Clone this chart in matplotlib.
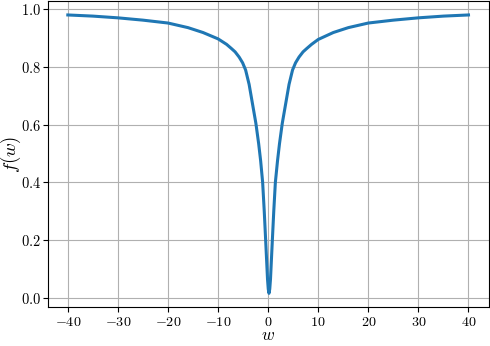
import matplotlib
matplotlib.use("Agg")
import matplotlib.pyplot as plt

plt.rcParams["font.family"] = "serif"
plt.rcParams["font.serif"] = ["cmr10"]
plt.rcParams["mathtext.fontset"] = "cm"
plt.rcParams["axes.formatter.use_mathtext"] = True

# values (dip sits a little right of 0)
w = [-40, -35, -30, -25, -20, -16, -13, -10, -8.3, -7.3, -6.6, -5.8, -5.1,
     -4.5, -3.8, -3.3, -2.45, -1.9, -1.5, -1.1, -0.78, -0.5, -0.28, -0.13,
     0.02, 0.17,
     0.32, 0.47, 0.62, 0.84, 1.12, 1.44, 1.87, 2.27, 2.82, 3.67, 4.17, 4.87,
     5.47, 6.17, 6.97, 7.67, 8.67, 10, 13, 16, 20, 25, 30, 35, 40]
f_w = [0.981, 0.977, 0.971, 0.963, 0.953, 0.937, 0.920, 0.898, 0.879, 0.864,
       0.853, 0.835, 0.815, 0.790, 0.740, 0.690, 0.605, 0.535, 0.475, 0.400,
       0.300, 0.200, 0.120, 0.065, 0.030, 0.015,
       0.030, 0.065, 0.120, 0.200, 0.300, 0.400, 0.475, 0.535, 0.605, 0.690,
       0.740, 0.790, 0.815, 0.835, 0.853, 0.864, 0.879, 0.896, 0.920, 0.937,
       0.953, 0.963, 0.971, 0.977, 0.981]

fig = plt.figure(figsize=(4.9, 3.46), dpi=100)
ax = fig.add_axes([0.0975, 0.112, 0.8995, 0.885])
ax.plot(w, f_w, color="#1f77b4", linewidth=2.2)
ax.set_xlabel(r"$w$", fontsize=12.5, labelpad=-1.0)
ax.set_ylabel(r"$f(w)$", fontsize=13.5)
ax.yaxis.set_label_coords(-0.056, 0.5)
ax.tick_params(axis="x", labelsize=10.2, pad=2.5)
ax.tick_params(axis="y", labelsize=10.4, pad=1.5)
ax.grid(True)

fig.savefig("out.png", dpi=100)
